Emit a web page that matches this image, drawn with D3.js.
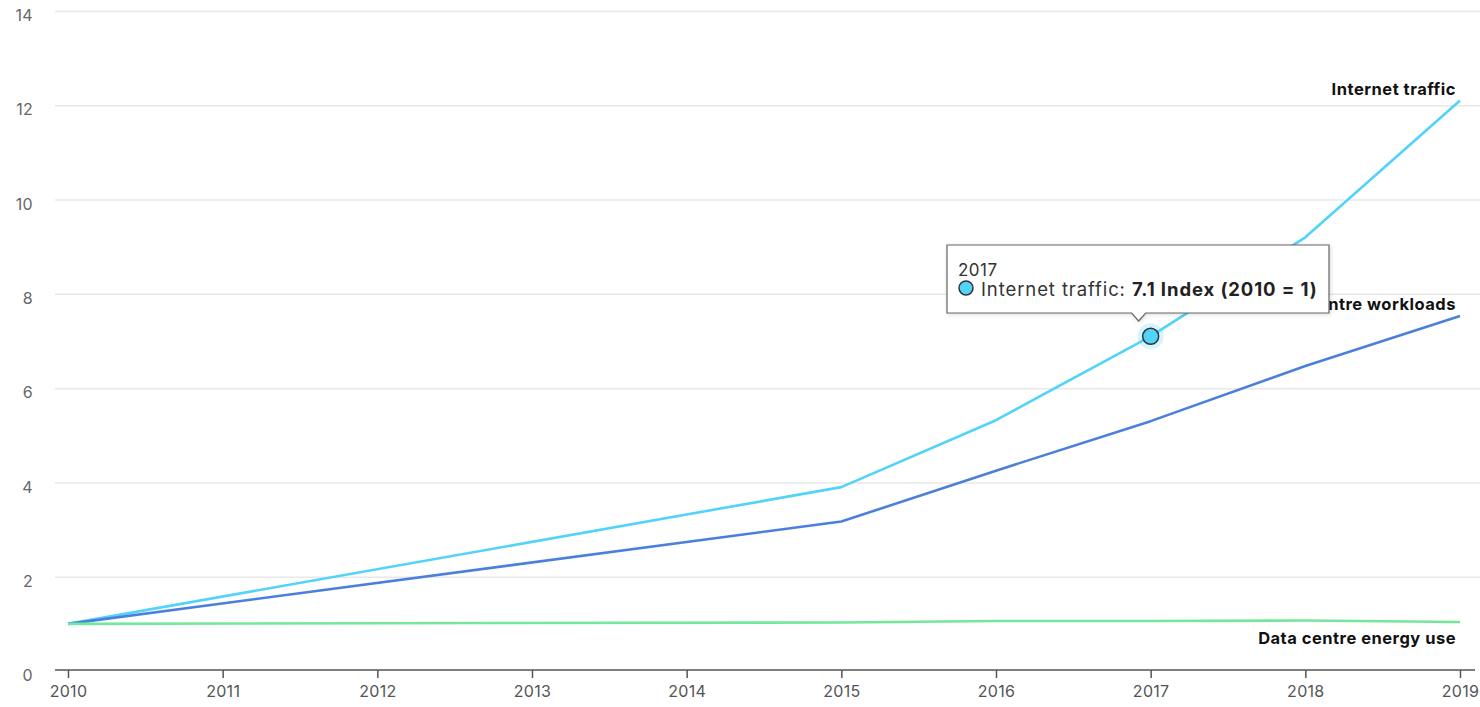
<!DOCTYPE html>
<html><head><meta charset="utf-8">
<script src="https://cdn.jsdelivr.net/npm/d3@7"></script>
<style>
body{margin:0;background:#fff;}
svg{display:block;font-family:Inter, "Open Sans", sans-serif;}
</style></head><body>
<svg id="chart" width="1480" height="707"></svg>
<script>
const years = [2010, 2015, 2016, 2017, 2018, 2019];
const internetTraffic = [1, 3.9, 5.32, 7.1, 9.2, 12.1];
const dcWorkloads = [1, 3.17, 4.25, 5.3, 6.47, 7.53];
const dcEnergy = [1, 1.03, 1.06, 1.06, 1.07, 1.04];
const seriesNames = ["Internet traffic", "Data centre workloads", "Data centre energy use"];
const seriesColors = ["#52d3fa", "#4a80dc", "#72e89c"];
const xTicks = [2010,2011,2012,2013,2014,2015,2016,2017,2018,2019];
const yTicks = [0,2,4,6,8,10,12,14];

const svg = d3.select("#chart");
const x = d3.scaleLinear().domain([2010, 2019]).range([68, 1460]);
const y = d3.scaleLinear().domain([0, 14]).range([671, 11]);

// gridlines + y labels
const yAxis = d3.axisLeft(y).tickValues(yTicks).tickSize(-1425).tickPadding(22);
const gy = svg.append("g").attr("transform", "translate(55,0)").call(yAxis);
gy.select(".domain").remove();
gy.selectAll(".tick line").attr("stroke", "#e8e8e8").attr("stroke-width", 1.5);
gy.selectAll(".tick").filter(d => d === 0).select("line").remove();
gy.selectAll(".tick text").attr("fill", "#666").attr("font-size", 16).attr("dy", "0.6em")
  .attr("font-family", "Inter, sans-serif").attr("letter-spacing", 0.3);

// x axis
const xAxis = d3.axisBottom(x).tickValues(xTicks).tickFormat(d3.format("d")).tickSize(8).tickSizeOuter(0).tickPadding(8);
const gx = svg.append("g").attr("transform", "translate(0,670)").call(xAxis);
gx.select(".domain").attr("d", "M55,0H1475").attr("stroke", "#555").attr("stroke-width", 1.5);
gx.selectAll(".tick line").attr("stroke", "#555").attr("stroke-width", 1.5);
gx.selectAll(".tick text").attr("fill", "#555").attr("font-size", 16)
  .attr("font-family", "Inter, sans-serif").attr("letter-spacing", 0.3);

const allSeries = [internetTraffic, dcWorkloads, dcEnergy];
const line = d3.line().x((d, i) => x(years[i])).y(d => y(d));
allSeries.forEach((s, k) => {
  svg.append("path").datum(s).attr("d", line).attr("fill", "none")
    .attr("stroke", seriesColors[k]).attr("stroke-width", 2.6).attr("stroke-linejoin", "round");
});

// series labels
const labelY = [y(12.1) - 6, y(7.53) - 6, y(1.04) + 22];
seriesNames.forEach((n, k) => {
  svg.append("text").attr("x", 1456).attr("y", labelY[k]).attr("text-anchor", "end")
    .attr("font-size", 16.5).attr("font-weight", 700).attr("fill", "#111").attr("letter-spacing", 0.5)
    .attr("font-family", "Inter, sans-serif").text(n);
});

// hover marker
const hi = years.indexOf(2017);
const mx = x(2017), my = y(internetTraffic[hi]);
svg.append("circle").attr("cx", mx).attr("cy", my).attr("r", 13).attr("fill", seriesColors[0]).attr("opacity", 0.25);
svg.append("circle").attr("cx", mx).attr("cy", my).attr("r", 8).attr("fill", seriesColors[0]).attr("stroke", "#333").attr("stroke-width", 1.5);

// tooltip
const tx = 947, ty = 245, tw = 382, th = 68, px = mx - 12;
const tt = svg.append("g");
tt.append("path")
  .attr("d", `M${tx},${ty}H${tx+tw}V${ty+th}H${px+7}L${px},${ty+th+8}L${px-7},${ty+th}H${tx}Z`)
  .attr("fill", "#fff").attr("stroke", "#666").attr("stroke-width", 1.2)
  .style("filter", "drop-shadow(1px 1px 2px rgba(0,0,0,0.15))");
tt.append("text").attr("x", tx + 11).attr("y", ty + 31).attr("font-size", 17).attr("fill", "#333")
  .attr("letter-spacing", 0.5).attr("font-family", "Inter, sans-serif").text("2017");
tt.append("circle").attr("cx", tx + 19).attr("cy", ty + 43).attr("r", 7).attr("fill", seriesColors[0]).attr("stroke", "#333").attr("stroke-width", 1.5);
const t2 = tt.append("text").attr("x", tx + 34).attr("y", ty + 51).attr("font-size", 18.5).attr("fill", "#333")
  .attr("letter-spacing", 0.9).attr("font-family", "Inter, sans-serif");
t2.append("tspan").text(seriesNames[0] + ": ");
t2.append("tspan").attr("font-weight", 700).attr("fill", "#222").text(internetTraffic[hi] + " Index (2010 = 1)");
</script>
</body></html>
